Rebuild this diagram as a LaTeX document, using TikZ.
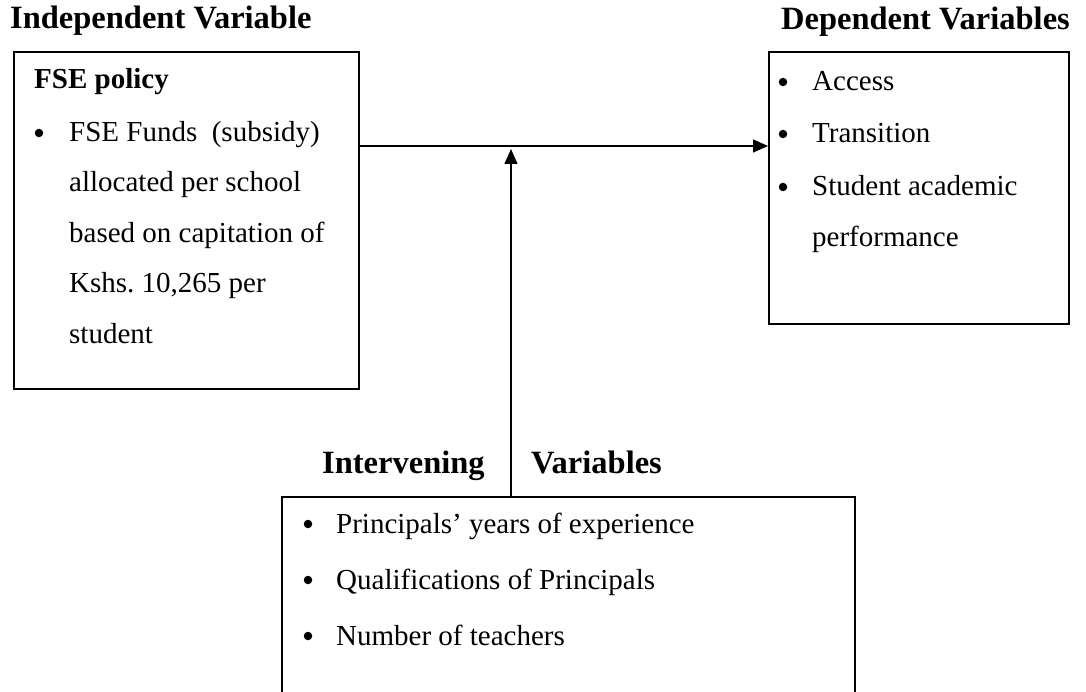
\documentclass[tikz,border=0pt]{standalone}
\usepackage{fontspec}
\setmainfont{Liberation Serif}
\usetikzlibrary{arrows.meta}
\frenchspacing
\begin{document}
\begin{tikzpicture}[x=1pt,y=-1pt,
  box/.style={draw, line width=1.7pt, inner sep=0pt},
  txt/.style={anchor=base west, inner sep=0pt, font=\fontsize{29}{35}\selectfont},
  btxt/.style={anchor=base west, inner sep=0pt, font=\fontsize{29}{35}\selectfont\bfseries},
  head/.style={anchor=base west, inner sep=0pt, font=\fontsize{32.5}{38}\selectfont\bfseries},
  bul/.style={circle, fill=black, inner sep=0pt, minimum size=8.5pt},
  arr/.style={line width=1.4pt, -{Triangle[length=15pt,width=13pt]}}]
\useasboundingbox (0,0) rectangle (1086,692);
\clip (0,0) rectangle (1086,692);
\fill[white] (0,0) rectangle (1086,692);
% boxes
\node[box, minimum width=345pt, minimum height=337pt, anchor=north west] (indep) at (13,51) {};
\node[box, minimum width=300pt, minimum height=272pt, anchor=north west] (dep) at (768,51) {};
\node[box, minimum width=573pt, minimum height=240pt, anchor=north west] (interv) at (281,496) {};
% headings
\node[head] (hindep) at (10,29) {Independent Variable};
\node[head] (hdep) at (781,30) {Dependent Variables};
\node[head] (hint1) at (322,473) {Intervening};
\node[head] (hint2) at (531,473) {Variables};
% left box
\node[btxt] (fse) at (34,89) {FSE policy};
\node[bul] (b1) at (39,133) {};
\node[txt] (l1) at (69,142) {FSE Funds~ (subsidy)};
\node[txt] (l2) at (69,192) {allocated per school};
\node[txt] (l3) at (69,243) {based on capitation of};
\node[txt] (l4) at (69,293) {Kshs. 10,265 per};
\node[txt] (l5) at (69,343) {student};
% right box
\node[bul] (b2) at (783,82) {};
\node[txt] (r1) at (812,91) {Access};
\node[bul] (b3) at (783,134) {};
\node[txt] (r2) at (812,143) {Transition};
\node[bul] (b4) at (783,187) {};
\node[txt] (r3) at (812,196) {Student academic};
\node[txt] (r4) at (812,247) {performance};
% bottom box
\node[bul] (b5) at (308,524) {};
\node[txt] (i1) at (336,533) {Principals’ years of experience};
\node[bul] (b6) at (308,580) {};
\node[txt] (i2) at (336,589) {Qualifications of Principals};
\node[bul] (b7) at (308,636) {};
\node[txt] (i3) at (336,645) {Number of teachers};
% connectors
\coordinate (mid) at (511,146);
\coordinate (tip) at (511,149);
\draw[arr] (indep.east |- mid) -- (dep.west |- mid);
\draw[arr] (interv.north -| tip) -- (tip);
\end{tikzpicture}
\end{document}
